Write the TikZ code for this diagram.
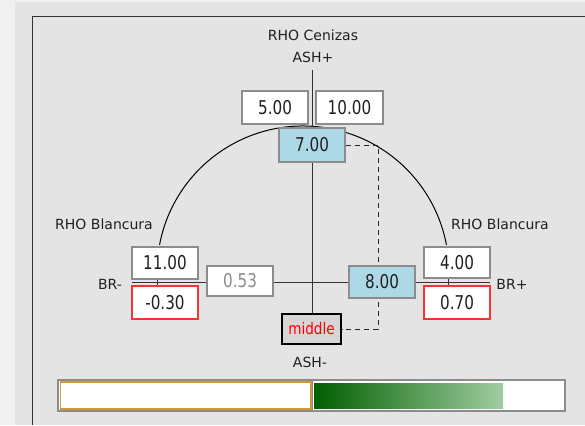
\documentclass[tikz,border=0pt]{standalone}
\usepackage{fontspec}
\usepackage{graphicx}
\setmainfont{DejaVu Sans}
\definecolor{outerbg}{HTML}{F0F0F0}
\definecolor{panelbg}{HTML}{E4E4E4}
\definecolor{boxgray}{HTML}{8C8C8C}
\definecolor{boxred}{HTML}{FF3030}
\definecolor{lblue}{HTML}{ADD8E6}
\definecolor{midgray}{HTML}{D6D6D6}
\definecolor{txt}{HTML}{202020}
\definecolor{gold}{HTML}{D09838}
\definecolor{dgreen}{HTML}{006000}
\definecolor{lgreen}{HTML}{A2CCA2}
\newcommand{\valtext}[1]{\scalebox{0.8}[1]{#1}}
\begin{document}
\begin{tikzpicture}[x=1pt,y=-1pt,
  every node/.style={font=\fontsize{14}{16}\selectfont, text=txt, inner sep=0pt},
  valbox/.style={draw=boxgray, line width=1.5pt, fill=white, minimum width=66pt, minimum height=32pt, font=\fontsize{19}{20}\selectfont},
  redbox/.style={valbox, draw=boxred},
  bluebox/.style={valbox, fill=lblue},
  axis/.style={draw=black!80, line width=1pt},
  dashline/.style={draw=black!85, line width=1pt, dash pattern=on 5pt off 4pt},
  lbl/.style={}]
\useasboundingbox (0,0) rectangle (585,425);
\fill[outerbg] (0,0) rectangle (585,425);
\fill[panelbg] (15,2) rectangle (585,425);
\draw[black!80, line width=1pt] (585,17) -- (32,17) -- (32,425);

% labels
\node[lbl] (cen) at (313,35) {RHO Cenizas};
\node[lbl] (ashp) at (313,57) {ASH+};
\node[lbl] (ashm) at (310,362) {ASH-};
\node[lbl] (rbl) at (104,224) {RHO Blancura};
\node[lbl] (rbr) at (500,224) {RHO Blancura};
\node[lbl] (brm) at (110,284) {BR-};
\node[lbl] (brp) at (512,284) {BR+};

% geometry
\coordinate (topax) at (312,70);
\coordinate (hl) at (132,282);
\coordinate (hr) at (490,282);
\coordinate (arcL) at (159.54,244.89);
\coordinate (dcor) at (378,145);
\coordinate (dbot) at (378,329);

% arc
\draw[black, line width=1pt] (arcL) arc[start angle=169.3, end angle=10.7, radius=146pt];

% middle box first for anchors
\node[draw=black, line width=1.5pt, fill=midgray, minimum width=59pt, minimum height=30pt, text=red, font=\fontsize{16}{18}\selectfont] (mid) at (311.5,329) {\scalebox{0.85}[1]{middle}};

% axes
\draw[axis] (topax) -- (mid.north -| topax);
\draw[axis] (hl) -- (hr);
\draw[axis] (157,279) -- (157,286);
\draw[axis] (448,279) -- (448,286);

% boxes
\node[valbox, minimum width=66pt, minimum height=33pt] (b5) at (275,107.5) {\valtext{5.00}};
\node[valbox, minimum width=67pt, minimum height=33pt] (b10) at (349.5,107.5) {\valtext{10.00}};
\node[bluebox, minimum height=34pt] (b7) at (312,145) {\valtext{7.00}};

% dashed
\draw[dashline] (b7.east) -- (dcor) -- (dbot) -- (mid.east);

\node[valbox] (b11) at (165,263) {\valtext{11.00}};
\node[redbox, minimum height=33pt] (bm03) at (165,302.5) {\valtext{-0.30}};
\node[valbox, minimum height=30pt, text=boxgray] (b053) at (240,281) {\valtext{0.53}};
\node[bluebox] (b8) at (382,282) {\valtext{8.00}};
\node[valbox, minimum height=31pt] (b4) at (457,262.5) {\valtext{4.00}};
\node[redbox, minimum height=33pt] (b07) at (457,302.5) {\valtext{0.70}};

% bottom bar
\draw[boxgray, line width=1.5pt, fill=white] (58,380) rectangle (565,411);
\draw[gold, line width=1.2pt] (60.5,382) rectangle (311,409);
\draw[boxgray, line width=1pt] (312.5,380) -- (312.5,411);
\shade[left color=dgreen, right color=lgreen] (314,383) rectangle (503,408);
\end{tikzpicture}
\end{document}
